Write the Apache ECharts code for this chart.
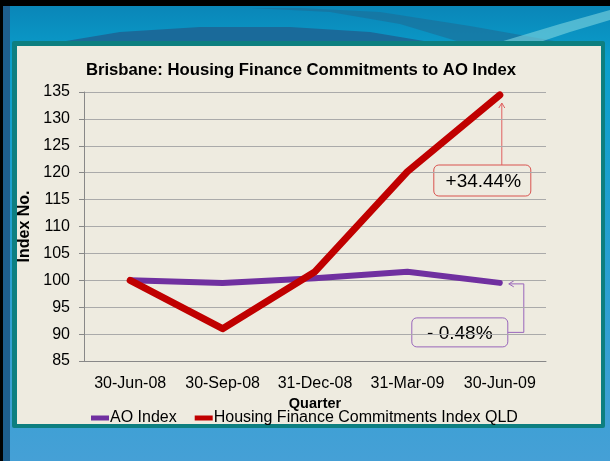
<!DOCTYPE html>
<html>
<head>
<meta charset="utf-8">
<script src="https://cdn.jsdelivr.net/npm/echarts@6/dist/echarts.min.js"></script>
<style>
  html, body { margin: 0; padding: 0; }
  #chart { width: 610px; height: 461px; }
</style>
</head>
<body>
<div id="chart"></div>
<script>
const quarters = ['30-Jun-08', '30-Sep-08', '31-Dec-08', '31-Mar-09', '30-Jun-09']
const aoIndex = [100, 99.5, 100.4, 101.6, 99.52]
const housingQld = [100, 91, 101.6, 120.2, 134.44]
const changeLabels = ['+34.44%', '- 0.48%']

const chart = echarts.init(document.getElementById('chart'))
const font = 'Liberation Sans, Arial, sans-serif'

// slide background + panel
const slide = [
  {
    type: 'rect', z: -10, silent: true,
    shape: { x: 0, y: 0, width: 610, height: 461 },
    style: { fill: '#000' }
  },
  {
    type: 'rect', z: -9, silent: true,
    shape: { x: 3, y: 6, width: 607, height: 455 },
    style: {
      fill: new echarts.graphic.LinearGradient(0, 0, 0, 1, [
        { offset: 0, color: '#0a86b8' },
        { offset: 0.12, color: '#0a9fcc' },
        { offset: 1, color: '#45a0d6' }
      ])
    }
  },
  {
    type: 'polygon', z: -8, silent: true,
    shape: { points: [[60, 42], [120, 32], [200, 27], [290, 27], [370, 32], [430, 42]] },
    style: { fill: '#1a6a9a' }
  },
  {
    type: 'polygon', z: -8, silent: true,
    shape: { points: [[250, 8], [330, 12], [400, 24], [460, 42], [560, 42], [470, 26], [380, 12], [300, 8]] },
    style: { fill: '#1c6c96', opacity: 0.6 }
  },
  {
    type: 'polygon', z: -8, silent: true,
    shape: { points: [[500, 42], [560, 24], [610, 10], [610, 20], [570, 32], [540, 42]] },
    style: { fill: '#7fd6e0', opacity: 0.6 }
  },
  {
    type: 'rect', z: -8, silent: true,
    shape: { x: 3, y: 6, width: 7, height: 455 },
    style: { fill: '#1e5f8e' }
  },
  {
    type: 'rect', z: -7, silent: true,
    shape: { x: 12, y: 41, width: 593, height: 387, r: 2 },
    style: { fill: '#0d7f80' }
  },
  {
    type: 'rect', z: -6, silent: true,
    shape: { x: 17, y: 46, width: 584, height: 378 },
    style: { fill: '#eeebe0' }
  }
]

chart.setOption({
  animation: false,
  title: {
    text: 'Brisbane: Housing Finance Commitments to AO Index',
    left: 296, top: 57, textAlign: 'center',
    textStyle: { fontFamily: font, fontSize: 16.7, fontWeight: 'bold', color: '#000' }
  },
  legend: {
    left: 86, top: 405,
    itemWidth: 18, itemHeight: 5, itemGap: 18,
    icon: 'rect',
    textStyle: { fontFamily: font, fontSize: 16, color: '#000', padding: [0, 0, 0, -4] },
    data: ['AO Index', 'Housing Finance Commitments Index QLD']
  },
  grid: { left: 84, right: 64, top: 92, bottom: 100 },
  xAxis: {
    type: 'category',
    data: quarters,
    boundaryGap: true,
    name: 'Quarter',
    nameLocation: 'middle',
    nameGap: 31,
    nameTextStyle: { fontFamily: font, fontSize: 14.5, fontWeight: 'bold', color: '#000' },
    axisLine: { lineStyle: { color: '#888' } },
    axisTick: { length: 5, lineStyle: { color: '#888' } },
    axisLabel: { fontFamily: font, fontSize: 16, color: '#000', margin: 15, interval: 0, hideOverlap: false }
  },
  yAxis: {
    type: 'value',
    min: 85, max: 135, interval: 5,
    name: 'Index No.',
    nameLocation: 'middle',
    nameGap: 47,
    nameTextStyle: { fontFamily: font, fontSize: 16, fontWeight: 'bold', color: '#000' },
    axisLine: { show: true, lineStyle: { color: '#888' } },
    axisTick: { show: true, length: 5, lineStyle: { color: '#888' } },
    splitLine: { lineStyle: { color: '#aaa' } },
    axisLabel: { fontFamily: font, fontSize: 16, color: '#000', margin: 14 }
  },
  series: [
    {
      name: 'AO Index',
      type: 'line',
      data: aoIndex,
      symbol: 'none',
      color: '#7030a0',
      lineStyle: { width: 6, cap: 'round', join: 'round' }
    },
    {
      name: 'Housing Finance Commitments Index QLD',
      type: 'line',
      data: housingQld,
      symbol: 'none',
      color: '#c00000',
      lineStyle: { width: 7, cap: 'round', join: 'round' }
    }
  ],
  graphic: slide
})

// annotations anchored to the last data points
const last = quarters.length - 1
const pRed = chart.convertToPixel({ seriesIndex: 1 }, [last, housingQld[last]])
const pAo = chart.convertToPixel({ seriesIndex: 0 }, [last, aoIndex[last]])

const redBox = { x: pRed[0] - 66, y: pRed[1] + 70, w: 97, h: 31 }
const aoBox = { x: pAo[0] - 88, y: pAo[1] + 35, w: 96, h: 29 }

chart.setOption({
  graphic: slide.concat([
    {
      type: 'rect',
      shape: { x: redBox.x, y: redBox.y, width: redBox.w, height: redBox.h, r: 5 },
      style: { fill: '#eeebe0', stroke: '#d9534f', lineWidth: 1 }
    },
    {
      type: 'text',
      style: {
        text: changeLabels[0], x: redBox.x + redBox.w / 2 + 1, y: redBox.y + redBox.h / 2 + 1,
        align: 'center', verticalAlign: 'middle',
        font: '19px ' + font, fill: '#000'
      }
    },
    {
      type: 'polyline',
      shape: { points: [[pRed[0] + 2, redBox.y], [pRed[0] + 2, pRed[1] + 8]] },
      style: { stroke: '#e06060', lineWidth: 1 }
    },
    {
      type: 'polyline',
      shape: { points: [[pRed[0] - 1, pRed[1] + 13], [pRed[0] + 2, pRed[1] + 8], [pRed[0] + 5, pRed[1] + 13]] },
      style: { stroke: '#e06060', lineWidth: 1, fill: null }
    },
    {
      type: 'rect',
      shape: { x: aoBox.x, y: aoBox.y, width: aoBox.w, height: aoBox.h, r: 5 },
      style: { fill: '#eeebe0', stroke: '#9966bb', lineWidth: 1 }
    },
    {
      type: 'text',
      style: {
        text: changeLabels[1], x: aoBox.x + aoBox.w / 2, y: aoBox.y + aoBox.h / 2 + 1,
        align: 'center', verticalAlign: 'middle',
        font: '19px ' + font, fill: '#000'
      }
    },
    {
      type: 'polyline',
      shape: {
        points: [
          [aoBox.x + aoBox.w, aoBox.y + aoBox.h / 2],
          [pAo[0] + 24, aoBox.y + aoBox.h / 2],
          [pAo[0] + 24, pAo[1] + 1],
          [pAo[0] + 9, pAo[1] + 1]
        ]
      },
      style: { stroke: '#9966bb', lineWidth: 1, fill: null }
    },
    {
      type: 'polyline',
      shape: { points: [[pAo[0] + 14, pAo[1] - 2], [pAo[0] + 9, pAo[1] + 1], [pAo[0] + 14, pAo[1] + 4]] },
      style: { stroke: '#9966bb', lineWidth: 1, fill: null }
    }
  ])
})
</script>
</body>
</html>
